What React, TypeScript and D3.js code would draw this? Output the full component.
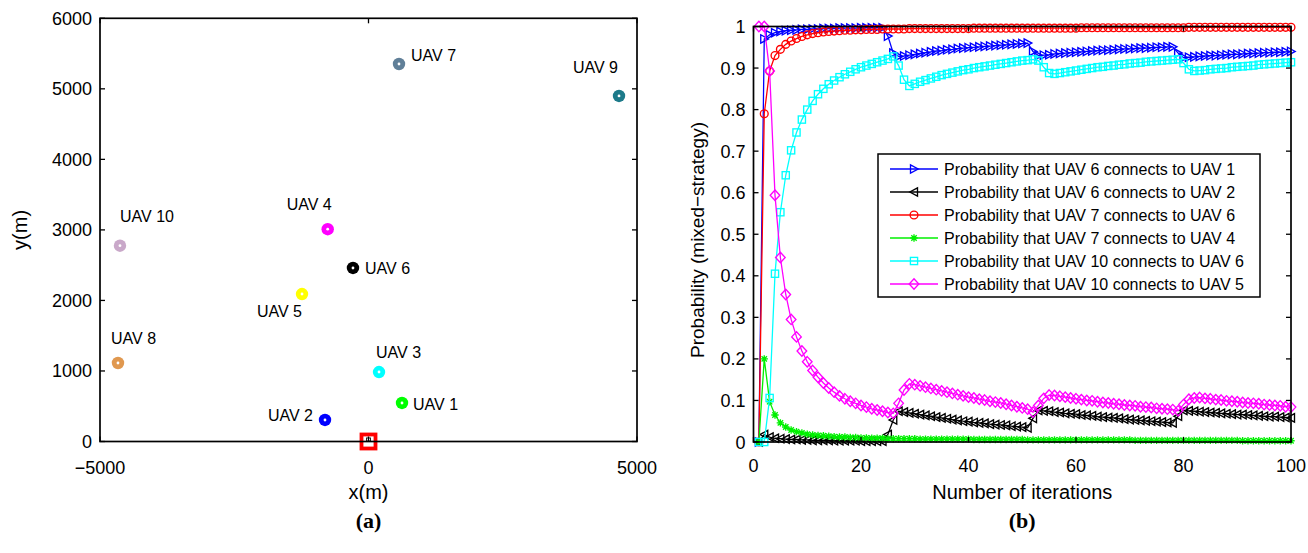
import React from "react";
import * as d3 from "d3";

// ---- Panel (a): UAV deployment ----
const uavNames = ["UAV 1", "UAV 2", "UAV 3", "UAV 4", "UAV 5", "UAV 6", "UAV 7", "UAV 8", "UAV 9", "UAV 10"];
const uavXs = [624, -810, 196, -760, -1238, -289, 568, -4665, 4665, -4628];
const uavYs = [546, 305, 985, 3010, 2091, 2460, 5352, 1113, 4899, 2776];
const uavColors = ["#00ff00", "#0000ff", "#00ffff", "#ff00ff", "#ffff00", "#000000", "#607f98", "#e0984f", "#1d7a8a", "#c9a8c9"];
const baseStation = { x: 0, y: 0 };

const xTicksA = [-5000, 0, 5000];
const yTicksA = [0, 1000, 2000, 3000, 4000, 5000, 6000];

// ---- Panel (b): mixed-strategy probabilities per iteration (1..100) ----
const xTicksB = [0, 20, 40, 60, 80, 100];
const yTicksB = [0, 0.1, 0.2, 0.3, 0.4, 0.5, 0.6, 0.7, 0.8, 0.9, 1];

const seriesNames = [
  "Probability that UAV 6 connects to UAV 1",
  "Probability that UAV 6 connects to UAV 2",
  "Probability that UAV 7 connects to UAV 6",
  "Probability that UAV 7 connects to UAV 4",
  "Probability that UAV 10 connects to UAV 6",
  "Probability that UAV 10 connects to UAV 5",
];

const p6to1 = [
  0, 0.970, 0.980, 0.985, 0.988, 0.990, 0.991, 0.992, 0.993, 0.993,
  0.994, 0.994, 0.995, 0.995, 0.995, 0.996, 0.996, 0.996, 0.996, 0.997,
  0.997, 0.997, 0.997, 0.997, 0.977, 0.936, 0.928, 0.929, 0.931, 0.933,
  0.935, 0.937, 0.939, 0.941, 0.942, 0.944, 0.945, 0.947, 0.948, 0.949,
  0.950, 0.951, 0.952, 0.953, 0.954, 0.955, 0.956, 0.957, 0.958, 0.959,
  0.960, 0.940, 0.930, 0.931, 0.932, 0.934, 0.935, 0.936, 0.937, 0.938,
  0.939, 0.940, 0.941, 0.942, 0.943, 0.943, 0.944, 0.945, 0.946, 0.946,
  0.947, 0.948, 0.948, 0.949, 0.950, 0.950, 0.951, 0.951, 0.936, 0.925,
  0.926, 0.927, 0.928, 0.929, 0.930, 0.930, 0.931, 0.932, 0.933, 0.933,
  0.934, 0.935, 0.935, 0.936, 0.937, 0.937, 0.938, 0.938, 0.939, 0.940,
];

const p6to2 = [
  0, 0.018, 0.012, 0.009, 0.008, 0.007, 0.006, 0.006, 0.005, 0.005,
  0.004, 0.004, 0.004, 0.004, 0.003, 0.003, 0.003, 0.003, 0.003, 0.002,
  0.002, 0.002, 0.002, 0.002, 0.018, 0.053, 0.074, 0.072, 0.070, 0.068,
  0.066, 0.064, 0.062, 0.060, 0.058, 0.056, 0.054, 0.052, 0.050, 0.049,
  0.047, 0.046, 0.045, 0.043, 0.042, 0.041, 0.040, 0.038, 0.037, 0.036,
  0.034, 0.057, 0.076, 0.075, 0.074, 0.072, 0.071, 0.069, 0.068, 0.067,
  0.065, 0.064, 0.063, 0.061, 0.060, 0.059, 0.058, 0.057, 0.055, 0.054,
  0.053, 0.052, 0.051, 0.050, 0.049, 0.048, 0.047, 0.046, 0.062, 0.076,
  0.075, 0.074, 0.073, 0.072, 0.071, 0.070, 0.069, 0.068, 0.067, 0.066,
  0.066, 0.065, 0.064, 0.063, 0.062, 0.061, 0.061, 0.060, 0.059, 0.058,
];

const p7to6 = [
  0, 0.790, 0.893, 0.930, 0.945, 0.957, 0.965, 0.971, 0.976, 0.980,
  0.983, 0.985, 0.987, 0.988, 0.989, 0.990, 0.991, 0.991, 0.992, 0.992,
  0.993, 0.993, 0.993, 0.994, 0.994, 0.994, 0.994, 0.994, 0.995, 0.995,
  0.995, 0.995, 0.995, 0.995, 0.995, 0.995, 0.995, 0.995, 0.995, 0.995,
  0.996, 0.996, 0.996, 0.996, 0.996, 0.996, 0.996, 0.996, 0.996, 0.996,
  0.996, 0.996, 0.996, 0.996, 0.996, 0.996, 0.996, 0.996, 0.996, 0.996,
  0.997, 0.997, 0.997, 0.997, 0.997, 0.997, 0.997, 0.997, 0.997, 0.997,
  0.997, 0.997, 0.997, 0.997, 0.997, 0.997, 0.997, 0.997, 0.997, 0.997,
  0.998, 0.998, 0.998, 0.998, 0.998, 0.998, 0.998, 0.998, 0.998, 0.998,
  0.998, 0.998, 0.998, 0.998, 0.998, 0.998, 0.998, 0.998, 0.998, 0.998,
];

const p7to4 = [
  0, 0.200, 0.097, 0.065, 0.046, 0.036, 0.029, 0.025, 0.022, 0.019,
  0.017, 0.016, 0.015, 0.014, 0.013, 0.012, 0.012, 0.011, 0.011, 0.010,
  0.010, 0.009, 0.009, 0.009, 0.008, 0.008, 0.008, 0.008, 0.008, 0.008,
  0.007, 0.007, 0.007, 0.007, 0.007, 0.007, 0.007, 0.007, 0.007, 0.007,
  0.006, 0.006, 0.006, 0.006, 0.006, 0.006, 0.006, 0.006, 0.006, 0.006,
  0.005, 0.005, 0.005, 0.005, 0.005, 0.005, 0.005, 0.005, 0.005, 0.005,
  0.005, 0.005, 0.005, 0.005, 0.005, 0.005, 0.005, 0.005, 0.005, 0.005,
  0.004, 0.004, 0.004, 0.004, 0.004, 0.004, 0.004, 0.004, 0.004, 0.004,
  0.004, 0.004, 0.004, 0.004, 0.004, 0.004, 0.004, 0.004, 0.004, 0.004,
  0.003, 0.003, 0.003, 0.003, 0.003, 0.003, 0.003, 0.003, 0.003, 0.003,
];

const p10to6 = [
  0, 0, 0.106, 0.405, 0.553, 0.642, 0.702, 0.745, 0.776, 0.800,
  0.821, 0.837, 0.850, 0.861, 0.870, 0.878, 0.885, 0.891, 0.897, 0.902,
  0.906, 0.910, 0.914, 0.918, 0.922, 0.928, 0.906, 0.872, 0.857, 0.862,
  0.867, 0.871, 0.875, 0.879, 0.883, 0.886, 0.889, 0.892, 0.895, 0.897,
  0.900, 0.902, 0.904, 0.906, 0.908, 0.910, 0.912, 0.914, 0.916, 0.918,
  0.919, 0.921, 0.918, 0.902, 0.888, 0.886, 0.888, 0.890, 0.892, 0.894,
  0.896, 0.898, 0.900, 0.902, 0.903, 0.905, 0.906, 0.908, 0.909, 0.911,
  0.912, 0.913, 0.915, 0.916, 0.917, 0.918, 0.919, 0.920, 0.921, 0.912,
  0.897, 0.893, 0.894, 0.895, 0.897, 0.898, 0.899, 0.900, 0.902, 0.903,
  0.904, 0.905, 0.906, 0.908, 0.909, 0.910, 0.911, 0.912, 0.913, 0.914,
];

const p10to5 = [
  1.000, 1.000, 0.893, 0.594, 0.444, 0.355, 0.295, 0.253, 0.219, 0.193,
  0.172, 0.156, 0.142, 0.130, 0.120, 0.111, 0.104, 0.098, 0.093, 0.088,
  0.084, 0.080, 0.077, 0.074, 0.071, 0.069, 0.093, 0.125, 0.140, 0.138,
  0.135, 0.132, 0.129, 0.126, 0.123, 0.120, 0.117, 0.114, 0.111, 0.108,
  0.106, 0.103, 0.101, 0.098, 0.096, 0.094, 0.091, 0.088, 0.085, 0.082,
  0.079, 0.072, 0.088, 0.105, 0.113, 0.112, 0.110, 0.108, 0.106, 0.104,
  0.102, 0.100, 0.099, 0.097, 0.095, 0.094, 0.092, 0.091, 0.089, 0.088,
  0.087, 0.085, 0.084, 0.083, 0.081, 0.080, 0.079, 0.078, 0.075, 0.090,
  0.103, 0.106, 0.107, 0.105, 0.104, 0.102, 0.101, 0.099, 0.098, 0.097,
  0.095, 0.094, 0.093, 0.092, 0.090, 0.089, 0.088, 0.087, 0.085, 0.084,
];

const seriesValues = [p6to1, p6to2, p7to6, p7to4, p10to6, p10to5];
const seriesColors = ["#0000ff", "#000000", "#ff0000", "#00f000", "#00ffff", "#ff00ff"];
const seriesMarkers = ["triRight", "triLeft", "circle", "asterisk", "square", "diamond"];

// label placement for panel (a): [dx, dy, anchor]
const uavLabelPlacement: [number, number, string][] = [
  [11, 7.5, "start"],
  [-12, 1.5, "end"],
  [-3, -14.5, "start"],
  [4, -19.5, "end"],
  [0, 22.5, "end"],
  [12, 6.5, "start"],
  [12, -3.5, "start"],
  [-7, -18.5, "start"],
  [-1, -22.5, "end"],
  [0, -24, "start"],
];

const SANS = "'Liberation Sans', Arial, Helvetica, sans-serif";
const SERIF = "'Liberation Serif', 'Times New Roman', serif";

function Marker({ kind, x, y, color }: { kind: string; x: number; y: number; color: string }) {
  const sw = 1.35;
  if (kind === "circle") {
    return <circle cx={x} cy={y} r={3.9} fill="none" stroke={color} strokeWidth={sw} />;
  }
  if (kind === "square") {
    return <rect x={x - 3.6} y={y - 3.6} width={7.2} height={7.2} fill="none" stroke={color} strokeWidth={sw} />;
  }
  let d = "";
  if (kind === "triRight") d = "M-3.5,-4.2L4.2,0L-3.5,4.2Z";
  else if (kind === "triLeft") d = "M3.5,-4.2L-4.2,0L3.5,4.2Z";
  else if (kind === "diamond") d = "M0,-5.2L4.8,0L0,5.2L-4.8,0Z";
  else if (kind === "asterisk") d = "M-3.7,0H3.7M0,-3.7V3.7M-2.7,-2.7L2.7,2.7M-2.7,2.7L2.7,-2.7";
  return <path d={d} transform={`translate(${x},${y})`} fill="none" stroke={color} strokeWidth={sw} />;
}

function PanelA() {
  const x = d3.scaleLinear().domain([-5000, 5000]).range([100, 637]);
  const y = d3.scaleLinear().domain([0, 6000]).range([441.5, 18.3]);
  const [x0, x1] = x.range();
  const [y0, y1] = y.range();
  const tick = 5;
  return (
    <g>
      {uavNames.map((name, i) => {
        const cx = x(uavXs[i]);
        const cy = y(uavYs[i]);
        const [dx, dy, anchor] = uavLabelPlacement[i];
        return (
          <g key={name}>
            <circle cx={cx} cy={cy} r={6.2} fill={uavColors[i]} />
            <circle cx={cx} cy={cy} r={1.4} fill="#ffffff" />
            <text x={cx + dx} y={cy + dy} textAnchor={anchor as any} fontSize={16} fontFamily={SANS} fill="#000">
              {name}
            </text>
          </g>
        );
      })}
      {/* base station */}
      <g>
        <rect x={x(baseStation.x) - 7} y={y(baseStation.y) - 7} width={14} height={14} fill="#ffffff" stroke="#ff0000" strokeWidth={3.8} />
        <rect x={x(baseStation.x) - 2} y={y(baseStation.y) - 3.5} width={4} height={3} fill="none" stroke="#222" strokeWidth={1} />
      </g>
      {/* box and ticks */}
      <rect x={x0} y={y1} width={x1 - x0} height={y0 - y1} fill="none" stroke="#000" strokeWidth={1.7} />
      {xTicksA.map((t) => (
        <g key={"xa" + t}>
          <line x1={x(t)} x2={x(t)} y1={y0} y2={y0 - tick} stroke="#000" strokeWidth={1.3} />
          <line x1={x(t)} x2={x(t)} y1={y1} y2={y1 + tick} stroke="#000" strokeWidth={1.3} />
          <text x={x(t)} y={y0 + 32} textAnchor="middle" fontSize={18} fontFamily={SANS} fill="#000">
            {t < 0 ? "\u2212" + Math.abs(t) : String(t)}
          </text>
        </g>
      ))}
      {yTicksA.map((t) => (
        <g key={"ya" + t}>
          <line x1={x0} x2={x0 + tick} y1={y(t)} y2={y(t)} stroke="#000" strokeWidth={1.3} />
          <line x1={x1} x2={x1 - tick} y1={y(t)} y2={y(t)} stroke="#000" strokeWidth={1.3} />
          <text x={x0 - 8} y={y(t) + 6.5} textAnchor="end" fontSize={18} fontFamily={SANS} fill="#000">
            {String(t)}
          </text>
        </g>
      ))}
      <text x={(x0 + x1) / 2} y={499} textAnchor="middle" fontSize={20} fontFamily={SANS} fill="#000">
        x(m)
      </text>
      <text transform={`translate(27,${(y0 + y1) / 2}) rotate(-90)`} textAnchor="middle" fontSize={20} fontFamily={SANS} fill="#000">
        y(m)
      </text>
      <text x={(x0 + x1) / 2} y={528} textAnchor="middle" fontSize={22} fontWeight="bold" fontFamily={SERIF} fill="#000">
        (a)
      </text>
    </g>
  );
}

function PanelB() {
  const x = d3.scaleLinear().domain([0, 100]).range([753.5, 1291]);
  const y = d3.scaleLinear().domain([0, 1]).range([442, 26.5]);
  const [x0, x1] = x.range();
  const [y0, y1] = y.range();
  const tick = 5;
  const line = d3
    .line<number>()
    .x((_, i) => x(i + 1))
    .y((v) => y(v));

  const legendLeft = 878;
  const legendTop = 154;
  const legendW = 382;
  const legendH = 143;
  const rowY0 = 169;
  const rowStep = 23;

  return (
    <g>
      {seriesValues.map((vals, s) => (
        <g key={"s" + s}>
          <path d={line(vals) || ""} fill="none" stroke={seriesColors[s]} strokeWidth={1.3} />
          {vals.map((v, i) => (
            <Marker key={i} kind={seriesMarkers[s]} x={x(i + 1)} y={y(v)} color={seriesColors[s]} />
          ))}
        </g>
      ))}
      {/* box and ticks */}
      <rect x={x0} y={y1} width={x1 - x0} height={y0 - y1} fill="none" stroke="#000" strokeWidth={1.7} />
      {xTicksB.map((t) => (
        <g key={"xb" + t}>
          <line x1={x(t)} x2={x(t)} y1={y0} y2={y0 - tick} stroke="#000" strokeWidth={1.3} />
          <line x1={x(t)} x2={x(t)} y1={y1} y2={y1 + tick} stroke="#000" strokeWidth={1.3} />
          <text x={x(t)} y={y0 + 30} textAnchor="middle" fontSize={18} fontFamily={SANS} fill="#000">
            {String(t)}
          </text>
        </g>
      ))}
      {yTicksB.map((t) => (
        <g key={"yb" + t}>
          <line x1={x0} x2={x0 + tick} y1={y(t)} y2={y(t)} stroke="#000" strokeWidth={1.3} />
          <line x1={x1} x2={x1 - tick} y1={y(t)} y2={y(t)} stroke="#000" strokeWidth={1.3} />
          <text x={x0 - 8} y={y(t) + 6.5} textAnchor="end" fontSize={18} fontFamily={SANS} fill="#000">
            {d3.format("~g")(t)}
          </text>
        </g>
      ))}
      <text x={(x0 + x1) / 2} y={499} textAnchor="middle" fontSize={20} fontFamily={SANS} fill="#000">
        Number of iterations
      </text>
      <text transform={`translate(704,240) rotate(-90)`} textAnchor="middle" fontSize={19} fontFamily={SANS} fill="#000">
        {"Probability (mixed\u2212strategy)"}
      </text>
      <text x={(x0 + x1) / 2} y={528} textAnchor="middle" fontSize={22} fontWeight="bold" fontFamily={SERIF} fill="#000">
        (b)
      </text>
      {/* legend */}
      <rect x={legendLeft} y={legendTop} width={legendW} height={legendH} fill="#ffffff" stroke="#000" strokeWidth={1.5} />
      {seriesNames.map((name, s) => {
        const ry = rowY0 + rowStep * s;
        return (
          <g key={"lg" + s}>
            <line x1={890} x2={938} y1={ry} y2={ry} stroke={seriesColors[s]} strokeWidth={1.3} />
            <Marker kind={seriesMarkers[s]} x={914} y={ry} color={seriesColors[s]} />
            <text x={944} y={ry + 5.5} fontSize={16} fontFamily={SANS} fill="#000">
              {name}
            </text>
          </g>
        );
      })}
    </g>
  );
}

export default function App() {
  return (
    <svg
      width={1308}
      height={553}
      viewBox="0 0 1308 553"
      style={{ position: "absolute", left: 0, top: 0, display: "block", background: "#ffffff" }}
    >
      <rect x={0} y={0} width={1308} height={553} fill="#ffffff" />
      <PanelA />
      <PanelB />
    </svg>
  );
}
